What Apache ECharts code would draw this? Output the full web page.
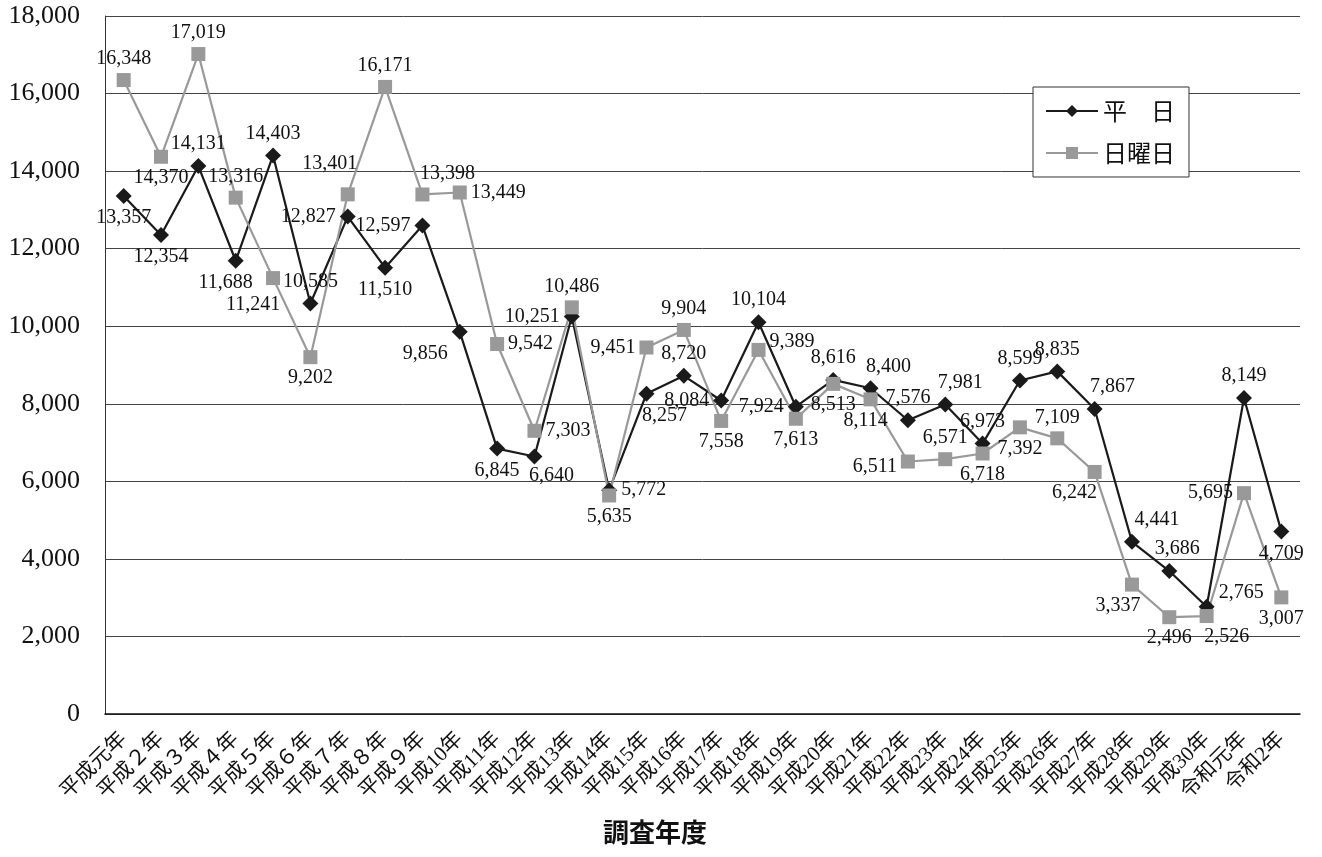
<!DOCTYPE html>
<html>
<head>
<meta charset="utf-8">
<script src="https://cdn.jsdelivr.net/npm/echarts@6/dist/echarts.min.js"></script>
<style>
  html, body { margin: 0; padding: 0; background: #fff; }
  #chart { width: 1322px; height: 857px; }
</style>
</head>
<body>
<div id="chart"></div>
<script>
// 調査年度
const years = [
  '平成元年', '平成２年', '平成３年', '平成４年', '平成５年', '平成６年', '平成７年', '平成８年', '平成９年',
  '平成10年', '平成11年', '平成12年', '平成13年', '平成14年', '平成15年', '平成16年', '平成17年',
  '平成18年', '平成19年', '平成20年', '平成21年', '平成22年', '平成23年', '平成24年', '平成25年',
  '平成26年', '平成27年', '平成28年', '平成29年', '平成30年', '令和元年', '令和2年'
];
// 平日
const weekday = [
  13357, 12354, 14131, 11688, 14403, 10585, 12827, 11510, 12597, 9856, 6845, 6640, 10251, 5772, 8257, 8720,
  8084, 10104, 7924, 8616, 8400, 7576, 7981, 6973, 8599, 8835, 7867, 4441, 3686, 2765, 8149, 4709
];
// 日曜日
const sunday = [
  16348, 14370, 17019, 13316, 11241, 9202, 13401, 16171, 13398, 13449, 9542, 7303, 10486, 5635, 9451, 9904,
  7558, 9389, 7613, 8513, 8114, 6511, 6571, 6718, 7392, 7109, 6242, 3337, 2496, 2526, 5695, 3007
];
const yTicks = [0, 2000, 4000, 6000, 8000, 10000, 12000, 14000, 16000, 18000];

// ラベル位置（重なり回避用） [position, dx, dy]
const weekdayLabelPos = [
  ['bottom'], ['bottom'], ['top'], ['bottom', -10, 0], ['top'], ['top'], ['left'], ['bottom'], ['left'],
  ['left', 0, 22], ['bottom'], ['bottom', 17, -3], ['left'], ['right'], ['bottom', 18, 0], ['top'],
  ['left'], ['top'], ['left'], ['top'], ['top', 18, 0], ['top'], ['top', 15, 0], ['top'], ['top'],
  ['top'], ['top', 18, 0], ['top', 25, 0], ['top', 8, 0], ['right', 0, -14], ['top'], ['bottom']
];
const sundayLabelPos = [
  ['top'], ['bottom'], ['top'], ['top'], ['bottom', -20, 6], ['bottom'], ['top', -18, -10], ['top'],
  ['top', 25, 0], ['right'], ['right'], ['right'], ['top'], ['bottom'], ['left'], ['top'],
  ['bottom'], ['right', 0, -8], ['bottom'], ['bottom'], ['bottom', -5, 0], ['left', 0, 5], ['top'],
  ['bottom'], ['bottom'], ['top'], ['bottom', -20, 0], ['bottom', -14, 0], ['bottom'], ['bottom', 20, 0],
  ['left'], ['bottom']
];

const serif = "'Liberation Serif', 'Times New Roman', 'Noto Sans CJK JP', serif";
const fmt = v => v.toLocaleString('en-US');

function withLabels(values, pos) {
  return values.map((v, i) => {
    const p = pos[i];
    return {
      value: v,
      label: { position: p[0], offset: [p[1] || 0, p[2] || 0] }
    };
  });
}

const chart = echarts.init(document.getElementById('chart'));
chart.setOption({
  animation: false,
  backgroundColor: '#fff',
  textStyle: { fontFamily: serif },
  grid: { left: 105, right: 22, top: 16, bottom: 143 },
  title: {
    text: '調査年度',
    left: 598,
    top: 814,
    textStyle: { fontFamily: "'Noto Sans CJK JP'", fontSize: 26, fontWeight: 'bold', color: '#111' }
  },
  legend: {
    orient: 'vertical',
    left: 1033,
    top: 87,
    padding: [12, 14, 12, 12],
    itemGap: 18,
    itemWidth: 52,
    itemHeight: 15,
    backgroundColor: '#fff',
    borderColor: '#333',
    borderWidth: 1,
    textStyle: { fontFamily: "'Noto Sans CJK JP'", fontSize: 24, color: '#111' },
    data: ['平日', '日曜日'],
    formatter: n => n === '平日' ? '平　日' : n
  },
  xAxis: {
    type: 'category',
    data: years,
    axisLine: { lineStyle: { color: '#111', width: 1.5 } },
    axisTick: { inside: true, length: 6, lineStyle: { color: '#111' } },
    axisLabel: {
      rotate: 45,
      margin: 22,
      fontSize: 21,
      color: '#111',
      fontFamily: "'Liberation Serif', 'Noto Sans CJK JP'",
      interval: 0
    }
  },
  yAxis: {
    type: 'value',
    min: 0,
    max: 18000,
    interval: 2000,
    axisLine: { show: true, lineStyle: { color: '#333', width: 1 } },
    axisTick: { show: false },
    splitLine: { lineStyle: { color: '#444', width: 1 } },
    axisLabel: {
      margin: 25,
      fontSize: 26,
      color: '#111',
      formatter: v => yTicks.includes(v) ? fmt(v) : ''
    }
  },
  series: [
    {
      name: '平日',
      type: 'line',
      data: withLabels(weekday, weekdayLabelPos),
      symbol: 'diamond',
      symbolSize: 16,
      itemStyle: { color: '#1a1a1a' },
      lineStyle: { color: '#1a1a1a', width: 2.2 },
      label: {
        show: true,
        fontSize: 20,
        color: '#111',
        distance: 4,
        formatter: p => fmt(p.value)
      }
    },
    {
      name: '日曜日',
      type: 'line',
      data: withLabels(sunday, sundayLabelPos),
      symbol: 'rect',
      symbolSize: 14,
      itemStyle: { color: '#999' },
      lineStyle: { color: '#999', width: 2.2 },
      label: {
        show: true,
        fontSize: 20,
        color: '#111',
        distance: 4,
        formatter: p => fmt(p.value)
      }
    }
  ]
});
</script>
</body>
</html>
